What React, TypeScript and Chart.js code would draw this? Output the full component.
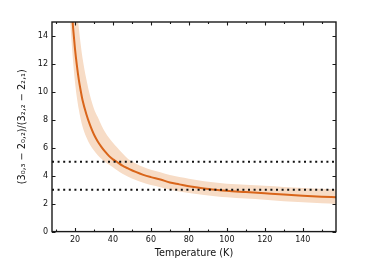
import React, { useEffect, useRef } from "react";
import { Chart, registerables } from "chart.js";

Chart.register(...registerables);

// ---- data ----
const temps = [16, 17, 18, 19, 20, 21, 22, 23, 24, 26, 28, 30, 32, 34, 36, 38, 40, 42, 45, 48, 52, 56, 60, 65, 70, 75, 80, 88, 95, 100, 110, 120, 130, 140, 150, 157.5];
const ratio = [21.2, 18.6, 16.4, 14.6, 13.1, 11.9, 10.9, 10.1, 9.4, 8.4, 7.6, 6.95, 6.45, 6.05, 5.7, 5.4, 5.17, 5.0, 4.72, 4.52, 4.27, 4.06, 3.9, 3.73, 3.52, 3.38, 3.24, 3.08, 2.98, 2.92, 2.83, 2.74, 2.65, 2.57, 2.5, 2.46];
const ratioUpper = [25.0, 22.8, 20.9, 19.1, 17.5, 16.0, 14.6, 13.4, 12.4, 10.9, 9.7, 8.8, 8.2, 7.6, 7.1, 6.7, 6.35, 6.05, 5.6, 5.2, 4.88, 4.62, 4.42, 4.25, 4.05, 3.9, 3.78, 3.6, 3.5, 3.43, 3.36, 3.28, 3.2, 3.12, 3.06, 3.03];
const ratioLower = [18.6, 16.1, 14.0, 12.2, 10.7, 9.6, 8.75, 8.05, 7.5, 6.75, 6.2, 5.8, 5.47, 5.2, 4.97, 4.78, 4.6, 4.4, 4.14, 3.93, 3.7, 3.5, 3.33, 3.18, 3.0, 2.87, 2.76, 2.62, 2.52, 2.46, 2.36, 2.28, 2.18, 2.1, 2.03, 1.98];
const thresholds = [5, 3];
const xMajorTicks = [20, 40, 60, 80, 100, 120, 140];
const xMinorTicks = [10, 30, 50, 70, 90, 110, 130, 150];
const yMajorTicks = [0, 2, 4, 6, 8, 10, 12, 14];
const xRange = [7.9, 157.5];
const yRange = [0, 15];
const xTitle = "Temperature (K)";
const yTitle = "(3₀,₃ − 2₀,₂)/(3₂,₂ − 2₂,₁)";

const LINE = "#d9651a";
const BAND = "#f7dcc6";
const FONT = "'DejaVu Sans', sans-serif";

const pts = (ys: number[]) => temps.map((t, i) => ({ x: t, y: ys[i] }));

const framePlugin = {
  id: "frameTicks",
  afterDraw(chart: any) {
    const { ctx, chartArea: a, scales } = chart;
    const xs = scales.x;
    const ys = scales.y;
    ctx.save();
    ctx.strokeStyle = "#1a1a1a";
    ctx.lineWidth = 1.1;
    const major = 3.5;
    const minor = 2;
    ctx.beginPath();
    for (const v of xMajorTicks) {
      const p = Math.round(xs.getPixelForValue(v)) + 0.5;
      ctx.moveTo(p, a.bottom); ctx.lineTo(p, a.bottom - major);
      ctx.moveTo(p, a.top); ctx.lineTo(p, a.top + major);
    }
    for (const v of xMinorTicks) {
      const p = Math.round(xs.getPixelForValue(v)) + 0.5;
      ctx.moveTo(p, a.bottom); ctx.lineTo(p, a.bottom - minor);
      ctx.moveTo(p, a.top); ctx.lineTo(p, a.top + minor);
    }
    for (const v of yMajorTicks) {
      const p = Math.round(ys.getPixelForValue(v)) + 0.5;
      ctx.moveTo(a.left, p); ctx.lineTo(a.left + major, p);
      ctx.moveTo(a.right, p); ctx.lineTo(a.right - major, p);
    }
    ctx.stroke();
    ctx.lineWidth = 1.4;
    ctx.strokeRect(a.left, a.top, a.right - a.left, a.bottom - a.top);
    ctx.restore();
  },
};

export default function App() {
  const ref = useRef<HTMLCanvasElement | null>(null);
  useEffect(() => {
    document.body.style.margin = "0";
    const canvas = ref.current!;
    const chart = new Chart(canvas, {
      type: "line",
      data: {
        datasets: [
          {
            label: "upper",
            data: pts(ratioUpper),
            borderWidth: 0,
            pointRadius: 0,
            backgroundColor: BAND,
            borderColor: "rgba(0,0,0,0)",
            fill: "+1",
            cubicInterpolationMode: "monotone",
            order: 3,
          },
          {
            label: "lower",
            data: pts(ratioLower),
            borderWidth: 0,
            pointRadius: 0,
            borderColor: "rgba(0,0,0,0)",
            fill: false,
            cubicInterpolationMode: "monotone",
            order: 3,
          },
          {
            label: "ratio",
            data: pts(ratio),
            borderWidth: 2,
            pointRadius: 0,
            borderColor: LINE,
            fill: false,
            cubicInterpolationMode: "monotone",
            order: 1,
          },
          ...thresholds.map((th) => ({
            label: "threshold " + th,
            data: [{ x: xRange[0], y: th }, { x: xRange[1], y: th }],
            borderWidth: 2,
            pointRadius: 0,
            borderColor: "#111111",
            borderDash: [2, 3.6],
            borderCapStyle: "butt" as const,
            fill: false,
            order: 0,
          })),
        ],
      },
      options: {
        animation: false,
        responsive: false,
        events: [],
        layout: { padding: { top: 22, right: 43, left: 0, bottom: 0 } },
        plugins: { legend: { display: false }, tooltip: { enabled: false } },
        scales: {
          x: {
            type: "linear",
            min: xRange[0],
            max: xRange[1],
            afterFit: (s: any) => { s.height = 36.4; },
            afterBuildTicks: (s: any) => { s.ticks = xMajorTicks.map((v) => ({ value: v })); },
            grid: { display: false, drawTicks: false },
            border: { display: false },
            ticks: { color: "#111", font: { family: FONT, size: 8 }, padding: 4, maxRotation: 0, autoSkip: false },
            title: { display: true, text: xTitle, color: "#111", font: { family: FONT, size: 9.7 }, padding: { top: 0, bottom: 9 } },
          },
          y: {
            type: "linear",
            min: yRange[0],
            max: yRange[1],
            afterFit: (s: any) => { s.width = 52; },
            afterBuildTicks: (s: any) => { s.ticks = yMajorTicks.map((v) => ({ value: v })); },
            grid: { display: false, drawTicks: false },
            border: { display: false },
            ticks: { color: "#111", font: { family: FONT, size: 8 }, padding: 4, autoSkip: false },
            title: { display: true, text: yTitle, color: "#111", font: { family: FONT, size: 9.7 }, padding: { top: 17, bottom: 0 } },
          },
        },
      },
      plugins: [framePlugin],
    } as any);
    return () => chart.destroy();
  }, []);
  return <canvas ref={ref} width={379} height={268} style={{ display: "block" }} />;
}
